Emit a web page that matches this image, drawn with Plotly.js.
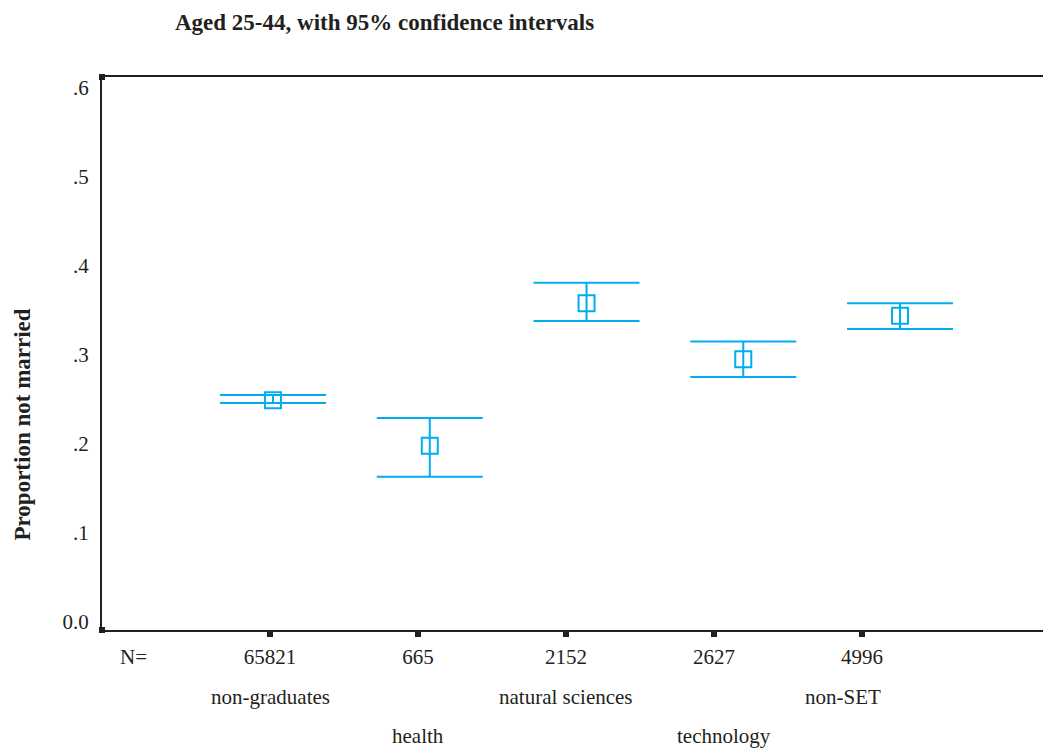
<!DOCTYPE html>
<html>
<head>
<meta charset="utf-8">
<script src="https://cdn.plot.ly/plotly-3.0.1.min.js"></script>
<style>html,body{margin:0;padding:0;background:#fff;}#chart{width:1043px;height:751px;}</style>
</head>
<body>
<div id="chart"></div>
<script>
// ---- data ----
const categories = ['non-graduates', 'health', 'natural sciences', 'technology', 'non-SET'];
const nCounts = ['65821', '665', '2152', '2627', '4996'];
const proportion = [0.249, 0.198, 0.358, 0.295, 0.344];
const ciUpper = [0.255, 0.229, 0.381, 0.315, 0.358];
const ciLower = [0.246, 0.163, 0.338, 0.275, 0.329];
const yTickVals = [0, 0.1, 0.2, 0.3, 0.4, 0.5, 0.6];
const yTickText = ['0.0', '.1', '.2', '.3', '.4', '.5', '.6'];

// ---- layout helpers (not data) ----
const labelNudge = [0, 0, 0, 10, -19];   // px nudges of the category names
const xIdx = categories.map((c, i) => i);
const errPlus = proportion.map((p, i) => ciUpper[i] - p);
const errMinus = proportion.map((p, i) => p - ciLower[i]);
// tick positions drift slightly left of the markers (as in the original output)
const tickScale = 0.944, tickShift = -0.019;
const tickPos = xIdx.map(i => i * tickScale + tickShift);

const ink = '#231f20';
const cyan = 'rgb(0,174,239)';
const serif = 'Liberation Serif, Times New Roman, serif';

const trace = {
  type: 'scatter',
  mode: 'markers',
  x: xIdx,
  y: proportion,
  marker: {symbol: 'square-open', size: 16, color: cyan, line: {width: 2, color: cyan}},
  error_y: {type: 'data', symmetric: false, array: errPlus, arrayminus: errMinus,
            color: cyan, thickness: 2, width: 53},
  hoverinfo: 'skip'
};

const annotations = categories.map((c, i) => ({
  text: c, x: tickPos[i], xref: 'x', xshift: labelNudge[i], y: 0, yref: 'paper',
  yshift: (i % 2 === 0) ? -67 : -106, yanchor: 'middle', xanchor: 'center',
  showarrow: false, font: {family: serif, size: 21, color: ink}
}));
annotations.push({
  text: 'N=', x: 0, xref: 'paper', xshift: 31, y: 0, yref: 'paper', yshift: -27,
  yanchor: 'middle', xanchor: 'center', showarrow: false,
  font: {family: serif, size: 21, color: ink}
});
annotations.push({
  text: '<b>Proportion not married</b>', textangle: -90,
  x: 0, xref: 'paper', xshift: -80, y: 0.5, yref: 'paper', yshift: -71,
  xanchor: 'center', yanchor: 'middle', showarrow: false,
  font: {family: serif, size: 23, color: ink}
});

function cornerSquare(xp, yp) {
  return {type: 'rect', xref: 'paper', yref: 'paper', xsizemode: 'pixel', ysizemode: 'pixel',
          xanchor: xp, yanchor: yp, x0: -3, x1: 3, y0: -3, y1: 3,
          fillcolor: ink, line: {width: 0}};
}

const layout = {
  width: 1043, height: 751,
  margin: {l: 102, r: 0, t: 77, b: 121},
  paper_bgcolor: '#fff', plot_bgcolor: '#fff',
  showlegend: false,
  title: {text: '<b>Aged 25-44, with 95% confidence intervals</b>',
          x: 175 / 1043, xanchor: 'left', xref: 'container',
          y: 1 - 22 / 751, yanchor: 'middle', yref: 'container',
          font: {family: serif, size: 23, color: ink}},
  xaxis: {
    range: [-1.091, 4.912], showgrid: false, zeroline: false,
    showline: true, linecolor: ink, linewidth: 2, mirror: true,
    tickmode: 'array', tickvals: tickPos, ticktext: nCounts,
    ticks: 'outside', ticklen: 5, tickwidth: 6, tickcolor: ink,
    ticklabelstandoff: 2,
    tickfont: {family: serif, size: 21, color: ink}
  },
  yaxis: {
    range: [-0.009, 0.612], showgrid: false, zeroline: false,
    showline: true, linecolor: ink, linewidth: 2,
    tickmode: 'array', tickvals: yTickVals, ticktext: yTickText,
    ticks: '', ticklabelstandoff: 7,
    tickfont: {family: serif, size: 21, color: ink}
  },
  annotations: annotations,
  shapes: [cornerSquare(0, 0), cornerSquare(0, 1)]
};

Plotly.newPlot('chart', [trace], layout, {displayModeBar: false, staticPlot: true});
</script>
</body>
</html>
